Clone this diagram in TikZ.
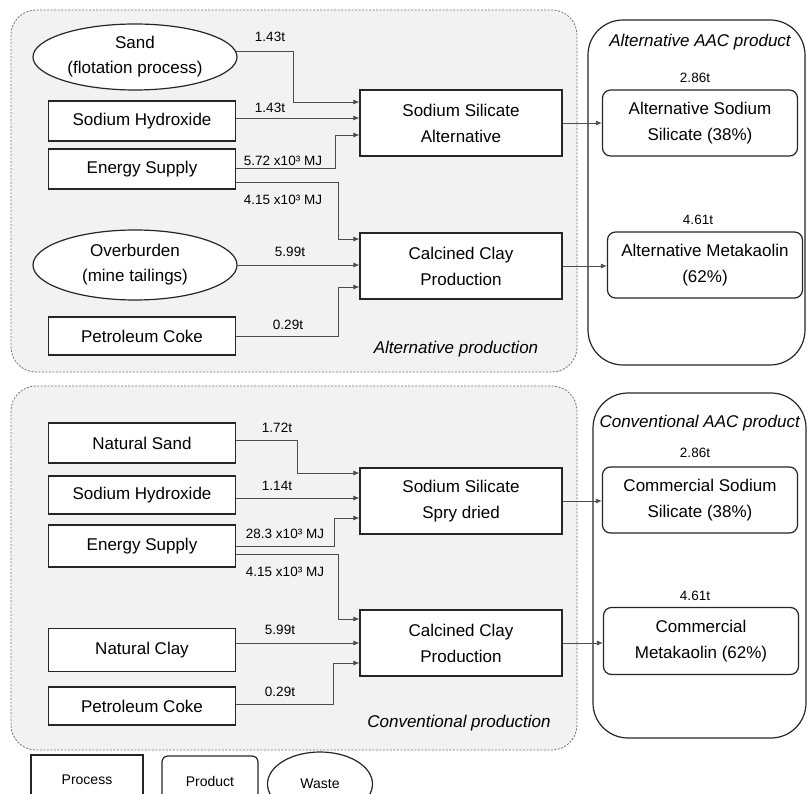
\documentclass[tikz,border=0pt]{standalone}
\usepackage{fontspec}
\setmainfont{Liberation Sans}
\usetikzlibrary{arrows.meta,shapes.geometric}
\tikzset{
  box/.style={draw=black!85, line width=1.2pt, fill=white, minimum width=187pt, minimum height=40pt, inner sep=2pt, font=\fontsize{17}{26}\selectfont},
  proc/.style={box, minimum width=202pt, minimum height=66pt, align=center},
  prod/.style={box, rounded corners=8pt, minimum width=195pt, minimum height=66pt, align=center},
  waste/.style={ellipse, draw=black!85, line width=1.2pt, fill=white, minimum width=204pt, minimum height=66pt, inner sep=0pt, align=center, font=\fontsize{17}{25}\selectfont},
  flow/.style={draw=black!70, line width=0.8pt, -{Latex[length=6pt,width=5pt]}},
  amount/.style={font=\fontsize{13.5}{15}\selectfont},
  panel/.style={draw=black!55, dash pattern=on 2pt off 1.5pt, fill=black!5, rounded corners=25pt, line width=0.8pt},
  outbox/.style={draw=black!85, line width=1.2pt, fill=white, rounded corners=35pt},
  title/.style={font=\fontsize{17}{19}\selectfont\itshape},
  legend/.style={draw=black!85, line width=1.2pt, fill=white, font=\fontsize{14}{16}\selectfont}
}
\begin{document}
\begin{tikzpicture}[x=1pt,y=-1pt]
  \useasboundingbox (0,0) rectangle (807,794);
  \clip (0,0) rectangle (807,794);

  % panels
  \draw[panel] (11,10) rectangle (577,372);
  \draw[panel] (11,386) rectangle (577,750);
  \draw[outbox] (588,20) rectangle (805,365);
  \draw[outbox] (593,393) rectangle (806,738);

  \node[title] (titalt) at (700,42) {Alternative AAC product};
  \node[title] (prodalt) at (456,349) {Alternative production};
  \node[title, anchor=west] (titcon) at (596,423) {Conventional AAC product};
  \node[title] (prodcon) at (459,723) {Conventional production};

  % alternative production
  \node[waste] (sand) at (135,57) {Sand\\(flotation process)};
  \node[box] (naoh1) at (142,121) {Sodium Hydroxide};
  \node[box] (energy1) at (142,169) {Energy Supply};
  \node[waste, minimum height=70pt] (overb) at (135,265) {Overburden\\(mine tailings)};
  \node[box, minimum height=38pt] (coke1) at (142,336) {Petroleum Coke};

  \node[proc] (silalt) at (461,123) {Sodium Silicate\\Alternative};
  \node[proc] (clayalt) at (461,266) {Calcined Clay\\Production};

  \node[amount] (a1) at (270,37) {1.43t};
  \node[amount] (a2) at (270,108) {1.43t};
  \node[amount] (a3) at (283,161) {5.72 x10³ MJ};
  \node[amount] (a4) at (283,200) {4.15 x10³ MJ};
  \node[amount] (a5) at (290,252) {5.99t};
  \node[amount] (a6) at (288,325) {0.29t};

  \draw[flow] (sand.3) -| (293,102) -- ([yshift=21pt]silalt.west);
  \draw[flow] ([yshift=3pt]naoh1.east) -- ([yshift=5pt]silalt.west);
  \draw[flow] ([yshift=1pt]energy1.east) -| (335,135) -- ([yshift=-12pt]silalt.west);
  \draw[flow] ([yshift=-13pt]energy1.east) -| (338,239) -- ([yshift=27pt]clayalt.west);
  \draw[flow] (overb.east) -- ([yshift=1pt]clayalt.west);
  \draw[flow] (coke1.east) -| (338,287) -- ([yshift=-21pt]clayalt.west);

  \node[prod] (silout1) at (700,123) {Alternative Sodium\\Silicate (38\%)};
  \node[prod] (clayout1) at (705,265) {Alternative Metakaolin\\(62\%)};
  \node[amount] (a7) at (695,78) {2.86t};
  \node[amount] (a8) at (698,220) {4.61t};
  \draw[flow] (silalt.east) -- (silout1.west);
  \draw[flow] (clayalt.east) -- (clayalt.east -| clayout1.west);

  % conventional production
  \node[box] (nsand) at (142,443) {Natural Sand};
  \node[box, minimum height=38pt] (naoh2) at (142,495) {Sodium Hydroxide};
  \node[box, minimum height=42pt] (energy2) at (142,546) {Energy Supply};
  \node[box, minimum height=43pt] (nclay) at (142,650) {Natural Clay};
  \node[box, minimum height=38pt] (coke2) at (142,706) {Petroleum Coke};

  \node[proc] (silcon) at (461,501) {Sodium Silicate\\Spry dried};
  \node[proc] (claycon) at (461,643) {Calcined Clay\\Production};

  \node[amount] (b1) at (277,428) {1.72t};
  \node[amount] (b2) at (277,486) {1.14t};
  \node[amount] (b3) at (285,534) {28.3 x10³ MJ};
  \node[amount] (b4) at (285,572) {4.15 x10³ MJ};
  \node[amount] (b5) at (280,630) {5.99t};
  \node[amount] (b6) at (280,692) {0.29t};

  \draw[flow] ([yshift=3pt]nsand.east) -| (297,473) -- ([yshift=28pt]silcon.west);
  \draw[flow] ([yshift=-3pt]naoh2.east) -- ([yshift=3pt]silcon.west);
  \draw[flow] (energy2.east) -| (334,518) -- ([yshift=-17pt]silcon.west);
  \draw[flow] ([yshift=-8pt]energy2.east) -| (338,619) -- ([yshift=24pt]claycon.west);
  \draw[flow] ([yshift=7pt]nclay.east) -- (claycon.west);
  \draw[flow] ([yshift=2pt]coke2.east) -| (333,663) -- ([yshift=-20pt]claycon.west);

  \node[prod] (silout2) at (700,500) {Commercial Sodium\\Silicate (38\%)};
  \node[prod, minimum height=67pt] (clayout2) at (701,641) {Commercial\\Metakaolin (62\%)};
  \node[amount] (b7) at (695,453) {2.86t};
  \node[amount] (b8) at (695,596) {4.61t};
  \draw[flow] (silcon.east) -- (silcon.east -| silout2.west);
  \draw[flow] (claycon.east) -- (claycon.east -| clayout2.west);

  % legend
  \node[legend, minimum width=112pt, minimum height=50pt] (lgproc) at (87,780) {Process};
  \node[legend, rounded corners=6pt, minimum width=96pt, minimum height=50pt] (lgprod) at (210,781) {Product};
  \node[legend, ellipse, minimum width=105pt, minimum height=64pt] (lgwaste) at (320,784) {Waste};
\end{tikzpicture}
\end{document}
